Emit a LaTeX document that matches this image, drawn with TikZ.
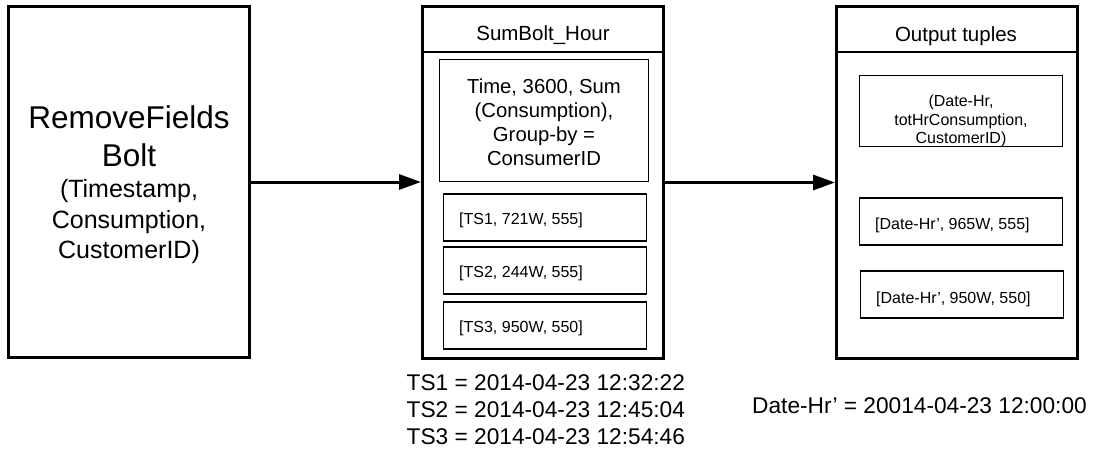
\documentclass[tikz,border=0pt]{standalone}
\usepackage{fontspec}
\setmainfont{Liberation Sans}
\usetikzlibrary{arrows.meta}
\begin{document}
\begin{tikzpicture}[x=1pt,y=-1pt,
  bolt/.style={draw, line width=3pt, minimum width=241pt, minimum height=352pt, inner sep=0pt},
  field/.style={draw, line width=1.2pt, inner sep=0pt},
  tuplebox/.style={field, minimum width=203pt, minimum height=47pt},
  flow/.style={line width=3pt, -{Triangle[length=22pt,width=15pt]}},
  sepline/.style={line width=1.3pt},
  label/.style={inner sep=0pt, align=center},
  headtext/.style={label, font=\fontsize{20.5}{24}\selectfont},
  tupletext/.style={inner sep=0pt, font=\fontsize{16}{18.5}\selectfont},
  notetext/.style={inner sep=0pt, align=left, font=\fontsize{22.7}{27}\selectfont}]
\useasboundingbox (0,0) rectangle (1097,453);

% RemoveFields bolt
\node[bolt, minimum height=351pt] (remove) at (129,182) {};
\node[label, font=\fontsize{31.5}{38}\selectfont] (removetitle) at (129,136.5) {RemoveFields\\Bolt};
\node[label, font=\fontsize{25}{30.5}\selectfont] (removefields) at (129,222) {(Timestamp,\\Consumption,\\CustomerID)};

% SumBolt_Hour bolt
\node[bolt] (sumbolt) at (543,182.5) {};
\coordinate (headrule) at (0,52);
\draw[sepline] (sumbolt.west |- headrule) -- (sumbolt.east |- headrule);
\node[headtext, anchor=base] (sumtitle) at (543,40.7) {SumBolt\_Hour};
\node[field, minimum width=209pt, minimum height=122pt] (window) at (544,120.5) {};
\node[label, font=\fontsize{20.3}{24.2}\selectfont] (windowtext) at (544,122.3) {Time, 3600, Sum\\(Consumption),\\Group-by =\\ConsumerID};
\node[tuplebox] (ts1) at (545,217.5) {};
\node[tupletext, anchor=west] (ts1text) at (459,220.8) {[TS1, 721W, 555]};
\node[tuplebox] (ts2) at (545,270.5) {};
\node[tupletext, anchor=west] (ts2text) at (459,273.8) {[TS2, 244W, 555]};
\node[tuplebox] (ts3) at (545,325.5) {};
\node[tupletext, anchor=west] (ts3text) at (459,328.8) {[TS3, 950W, 550]};

% Output tuples
\node[bolt] (output) at (957,182.5) {};
\draw[sepline] (output.west |- headrule) -- (output.east |- headrule);
\node[headtext, anchor=base] (outtitle) at (956,41) {Output tuples};
\node[tuplebox, minimum height=71pt] (schema) at (961,111) {};
\node[label, font=\fontsize{16}{18.2}\selectfont] (schematext) at (961,120.9) {(Date-Hr,\\totHrConsumption,\\CustomerID)};
\node[tuplebox] (out1) at (961,221.5) {};
\node[tupletext, anchor=west] (out1text) at (875,225.7) {[Date-Hr’, 965W, 555]};
\node[tuplebox] (out2) at (962,294.5) {};
\node[tupletext, anchor=west] (out2text) at (876,299) {[Date-Hr’, 950W, 550]};

% Stream connections
\draw[flow] (remove.east) -- (remove.east -| sumbolt.west);
\draw[flow] (sumbolt.east) -- (sumbolt.east -| output.west);

% Timestamp legends
\node[notetext, anchor=west] (tsdefs) at (406.5,410) {TS1 = 2014-04-23 12:32:22\\TS2 = 2014-04-23 12:45:04\\TS3 = 2014-04-23 12:54:46};
\node[notetext, anchor=base west] (datedef) at (752,413.3) {Date-Hr’ = 20014-04-23 12:00:00};
\end{tikzpicture}
\end{document}
